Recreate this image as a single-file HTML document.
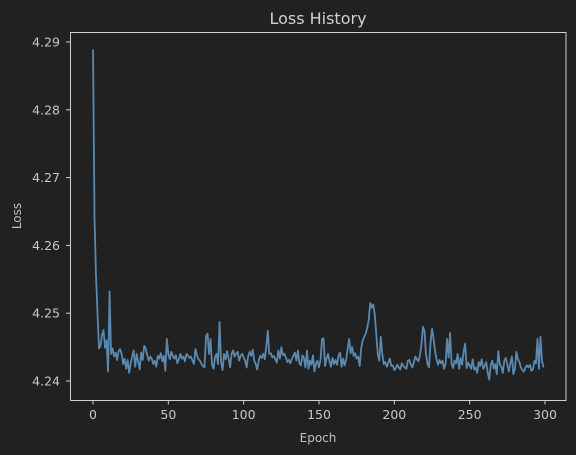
<!DOCTYPE html>
<html><head><meta charset="utf-8"><style>
body{margin:0;background:#212121;}
svg{display:block;font-family:"DejaVu Sans","Liberation Sans",sans-serif;}
</style></head><body>
<svg id="chart" width="576" height="455">
<rect width="576" height="455" fill="#212121"/>
<text x="318" y="24" fill="#d0d0d0" font-size="16" text-anchor="middle">Loss History</text>
<text x="318" y="442" fill="#c0c0c0" font-size="12" text-anchor="middle">Epoch</text>
<text x="21" y="216" fill="#c0c0c0" font-size="12" text-anchor="middle" transform="rotate(-90 21 216)">Loss</text>
<g id="axes"></g>
<rect x="70.5" y="32.5" width="495.5" height="368" fill="none" stroke="#d0d0d0" stroke-width="1"/>
</svg>
<script>
const xTicks=[0,50,100,150,200,250,300];
const yTicks=[4.24,4.25,4.26,4.27,4.28,4.29];
const yTickLabels=["4.24","4.25","4.26","4.27","4.28","4.29"];
const lossValues=[
4.2889,4.2640,4.2555,4.2500,4.2448,4.2452,4.2468,4.2475,4.2449,4.2460,4.2414,4.2532,4.2440,4.2448,4.2436,4.2442,4.2431,4.2444,4.2447,4.2440,
4.2425,4.2433,4.2418,4.2431,4.2412,4.2426,4.2436,4.2445,4.2421,4.2440,4.2428,4.2417,4.2442,4.2431,4.2452,4.2448,4.2438,4.2430,4.2436,4.2433,
4.2425,4.2430,4.2421,4.2437,4.2433,4.2441,4.2429,4.2437,4.2415,4.2462,4.2440,4.2432,4.2443,4.2437,4.2433,4.2438,4.2426,4.2432,4.2440,4.2433,
4.2436,4.2429,4.2440,4.2438,4.2434,4.2436,4.2430,4.2425,4.2447,4.2438,4.2432,4.2430,4.2425,4.2422,4.2420,4.2466,4.2470,4.2440,4.2462,4.2424,
4.2418,4.2435,4.2440,4.2425,4.2487,4.2428,4.2416,4.2440,4.2432,4.2444,4.2433,4.2420,4.2440,4.2445,4.2436,4.2440,4.2443,4.2430,4.2437,4.2440,
4.2435,4.2430,4.2420,4.2437,4.2443,4.2437,4.2446,4.2430,4.2425,4.2417,4.2430,4.2437,4.2434,4.2440,4.2432,4.2450,4.2474,4.2440,4.2441,4.2435,
4.2437,4.2432,4.2427,4.2445,4.2433,4.2450,4.2438,4.2440,4.2435,4.2428,4.2431,4.2426,4.2433,4.2437,4.2442,4.2430,4.2445,4.2426,4.2423,4.2438,
4.2434,4.2420,4.2445,4.2418,4.2430,4.2424,4.2438,4.2414,4.2426,4.2430,4.2420,4.2431,4.2462,4.2463,4.2422,4.2433,4.2440,4.2429,4.2421,4.2434,
4.2425,4.2431,4.2424,4.2438,4.2442,4.2421,4.2433,4.2423,4.2431,4.2447,4.2462,4.2441,4.2450,4.2437,4.2441,4.2433,4.2436,4.2422,4.2448,4.2460,
4.2465,4.2470,4.2478,4.2490,4.2515,4.2508,4.2513,4.2498,4.2470,4.2440,4.2430,4.2465,4.2440,4.2425,4.2428,4.2421,4.2427,4.2433,4.2422,4.2423,
4.2416,4.2419,4.2424,4.2420,4.2417,4.2426,4.2422,4.2420,4.2418,4.2430,4.2431,4.2424,4.2420,4.2428,4.2436,4.2432,4.2429,4.2438,4.2454,4.2480,
4.2474,4.2440,4.2425,4.2420,4.2455,4.2477,4.2463,4.2445,4.2432,4.2424,4.2431,4.2426,4.2430,4.2418,4.2425,4.2462,4.2435,4.2471,4.2425,4.2419,
4.2430,4.2426,4.2440,4.2418,4.2434,4.2424,4.2444,4.2455,4.2419,4.2427,4.2423,4.2418,4.2432,4.2417,4.2420,4.2412,4.2428,4.2422,4.2432,4.2418,
4.2422,4.2428,4.2412,4.2402,4.2424,4.2430,4.2418,4.2425,4.2410,4.2444,4.2425,4.2421,4.2412,4.2430,4.2434,4.2424,4.2414,4.2426,4.2436,4.2410,
4.2418,4.2443,4.2432,4.2428,4.2420,4.2416,4.2414,4.2420,4.2423,4.2420,4.2424,4.2415,4.2417,4.2430,4.2426,4.2462,4.2418,4.2465,4.2430,4.2420
];
const NS="http://www.w3.org/2000/svg";
const xScale=v=>93+v*(545-93)/300;
const yScale=v=>381-(v-4.24)*(381-42)/0.05;
const g=document.getElementById('axes');
const svg=document.getElementById('chart');
xTicks.forEach(t=>{
  const x=xScale(t);
  const l=document.createElementNS(NS,'line');
  l.setAttribute('x1',x);l.setAttribute('x2',x);l.setAttribute('y1',400.5);l.setAttribute('y2',404.5);
  l.setAttribute('stroke','#d0d0d0');
  
  
  g.appendChild(l);
  const tx=document.createElementNS(NS,'text');
  tx.setAttribute('x',x);tx.setAttribute('y',419);tx.setAttribute('fill','#c8c8c8');
  tx.setAttribute('font-size','12.5');tx.setAttribute('text-anchor','middle');
  tx.textContent=t;
  
  
  g.appendChild(tx);
});
yTicks.forEach((t,i)=>{
  const y=yScale(t);
  const l=document.createElementNS(NS,'line');
  l.setAttribute('x1',66);l.setAttribute('x2',70.5);l.setAttribute('y1',y);l.setAttribute('y2',y);
  l.setAttribute('stroke','#d0d0d0');
  
  
  g.appendChild(l);
  const tx=document.createElementNS(NS,'text');
  tx.setAttribute('x',60);tx.setAttribute('y',y+4.5);tx.setAttribute('fill','#c8c8c8');
  tx.setAttribute('font-size','12.5');tx.setAttribute('text-anchor','end');
  tx.textContent=yTickLabels[i];
  
  
  g.appendChild(tx);
});
const p=document.createElementNS(NS,'polyline');
p.setAttribute('points',lossValues.map((v,i)=>xScale(i).toFixed(2)+','+yScale(v).toFixed(2)).join(' '));
p.setAttribute('fill','none');p.setAttribute('stroke','#5b88ad');p.setAttribute('stroke-width','1.8');
p.setAttribute('stroke-linejoin','round');


svg.appendChild(p);
</script>
</body></html>
